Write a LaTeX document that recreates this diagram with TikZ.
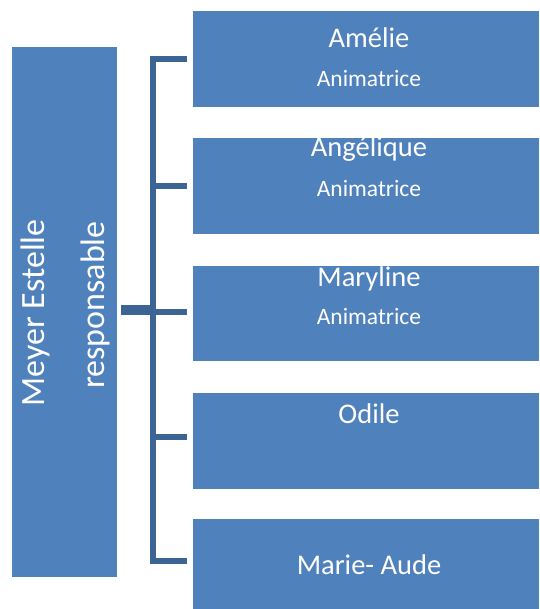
\documentclass[tikz,border=0pt]{standalone}
\usepackage{fontspec}
\setmainfont{Carlito}
\definecolor{boxblue}{HTML}{4F81BD}
\definecolor{linkblue}{HTML}{3C6596}
\begin{document}
\begin{tikzpicture}[x=1pt,y=-1pt,
  box/.style={fill=boxblue, draw=none, inner sep=0pt},
  link/.style={draw=linkblue, line width=5.5pt},
  nametxt/.style={text=white, font=\fontsize{28.5}{34}\selectfont, anchor=base, inner sep=0pt},
  roletxt/.style={text=white, font=\fontsize{23.5}{28}\selectfont, anchor=base, inner sep=0pt},
  leadtxt/.style={text=white, font=\fontsize{34}{40}\selectfont, anchor=base, rotate=90, inner sep=0pt}]
\useasboundingbox (0,0) rectangle (539,609);
% boxes
\node[box, minimum width=105pt, minimum height=530pt, anchor=north west] (lead) at (12,47) {};
\node[box, minimum width=346pt, minimum height=96pt, anchor=north west] (b1) at (193,11) {};
\node[box, minimum width=346pt, minimum height=96pt, anchor=north west] (b2) at (193,138) {};
\node[box, minimum width=346pt, minimum height=95pt, anchor=north west] (b3) at (193,266) {};
\node[box, minimum width=346pt, minimum height=96pt, anchor=north west] (b4) at (193,393) {};
\node[box, minimum width=346pt, minimum height=90pt, anchor=north west] (b5) at (193,519) {};
% texts
\node[leadtxt] (l1) at (44,313) {Meyer Estelle};
\node[leadtxt] (l2) at (104,305) {responsable};
\node[nametxt] (n1) at (369,48) {Amélie};
\node[roletxt] (r1) at (369,87) {Animatrice};
\node[nametxt] (n2) at (369,157) {Angélique};
\node[roletxt] (r2) at (369,197) {Animatrice};
\node[nametxt] (n3) at (369,286) {Maryline};
\node[roletxt] (r3) at (369,324) {Animatrice};
\node[nametxt] (n4) at (369,423) {Odile};
\node[nametxt] (n5) at (369,574) {Marie- Aude};
% connectors
\coordinate (s1) at (153,59);
\coordinate (s2) at (153,186);
\coordinate (s3) at (153,312);
\coordinate (s4) at (153,437);
\coordinate (s5) at (153,561);
\coordinate (st) at (153,310);
\draw[link] ([xshift=-6pt]b1.west |- s1) -- (s1) -- (s5) -- ([xshift=-6pt]b5.west |- s5);
\draw[link] (s2) -- ([xshift=-6pt]b2.west |- s2);
\draw[link] (s3) -- ([xshift=-6pt]b3.west |- s3);
\draw[link] (s4) -- ([xshift=-6pt]b4.west |- s4);
\draw[draw=linkblue, line width=10pt] ([xshift=4pt]lead.east |- st) -- (st);
\end{tikzpicture}
\end{document}
